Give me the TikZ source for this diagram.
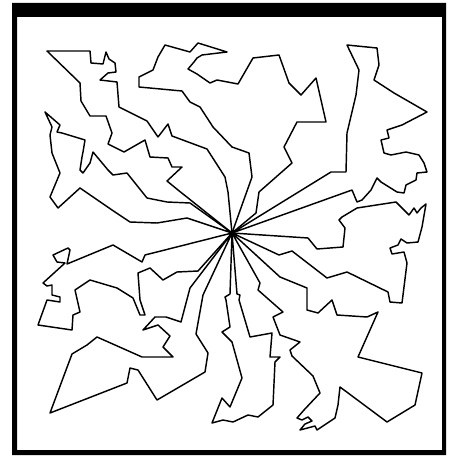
\documentclass[tikz,border=0pt]{standalone}
\begin{document}
\begin{tikzpicture}[x=1pt,y=-1pt,
  route/.style={draw=black, line width=1.45pt, line join=round, line cap=round}]
\useasboundingbox (0,0) rectangle (448,457);
\fill[white] (0,0) rectangle (448,457);
% frame
\fill[black, even odd rule] (12,3) rectangle (446,455) (17,17) rectangle (442,450);
% depot
\coordinate (D) at (232,233);
% route A (top left)
\draw[route] (D) -- (178,190) -- (167,181) -- (182,167) -- (172,167) -- (168,158) -- (150,157) -- (145,140) -- (124,152) -- (108,144) -- (112,133) -- (106,116) -- (90,116) -- (81,101) -- (80,83) -- (47,51) -- (90,51) -- (91,63) -- (103,64) -- (106,52) -- (109,59) -- (115,63) -- (116,72) -- (108,73) -- (100,80) -- (117,82) -- (119,107) -- (147,121) -- (158,137) -- (168,124) -- (172,136) -- (207,149) -- (225,177) -- (228,192) -- cycle;
% route B (top)
\draw[route] (D) -- (252,177) -- (249,153) -- (232,147) -- (213,127) -- (200,107) -- (190,102) -- (182,91) -- (139,87) -- (139,77) -- (153,70) -- (158,57) -- (165,45) -- (190,52) -- (198,43) -- (227,52) -- (202,55) -- (197,58) -- (194,62) -- (188,69) -- (197,74) -- (210,83) -- (217,80) -- (238,84) -- (253,58) -- (279,55) -- (289,83) -- (301,95) -- (316,78) -- (326,122) -- (297,122) -- (284,147) -- (292,163) -- (259,192) -- (256,213) -- cycle;
% route C (top right)
\draw[route] (D) -- (331,172) -- (346,172) -- (347,133) -- (356,95) -- (359,70) -- (347,45) -- (377,48) -- (379,65) -- (374,80) -- (394,93) -- (427,112) -- (402,125) -- (387,130) -- (389,138) -- (381,140) -- (384,153) -- (391,155) -- (406,152) -- (419,155) -- (424,163) -- (427,172) -- (417,173) -- (416,180) -- (406,185) -- (404,193) -- (397,192) -- (381,182) -- (377,178) -- (371,190) -- (362,200) -- (357,202) -- (352,190) -- cycle;
% route D (right)
\draw[route] (D) -- (308,238) -- (317,249) -- (343,247) -- (345,228) -- (339,220) -- (342,217) -- (357,208) -- (396,202) -- (404,210) -- (409,215) -- (414,208) -- (417,213) -- (421,208) -- (426,204) -- (422,227) -- (418,242) -- (407,243) -- (401,239) -- (398,245) -- (390,248) -- (392,254) -- (404,252) -- (407,263) -- (402,303) -- (390,302) -- (388,292) -- (347,272) -- (327,278) -- (292,251) -- (279,255) -- cycle;
% route E (lower right)
\draw[route] (D) -- (260,283) -- (258,290) -- (283,312) -- (273,317) -- (280,335) -- (300,342) -- (290,350) -- (292,356) -- (313,376) -- (320,393) -- (304,410) -- (297,418) -- (302,420) -- (308,417) -- (312,421) -- (305,424) -- (300,430) -- (315,426) -- (317,430) -- (335,418) -- (338,405) -- (340,387) -- (387,422) -- (415,405) -- (422,373) -- (358,357) -- (378,312) -- (367,317) -- (337,315) -- (332,300) -- (318,313) -- (307,310) -- (307,288) -- (280,277) -- cycle;
% route F (bottom centre)
\draw[route] (D) -- (230,294) -- (225,297) -- (226,300) -- (230,327) -- (222,332) -- (232,342) -- (242,378) -- (230,407) -- (222,398) -- (212,423) -- (223,420) -- (233,422) -- (248,415) -- (258,417) -- (273,405) -- (275,362) -- (280,357) -- (270,357) -- (272,333) -- (250,337) -- (239,300) -- (240,295) -- (237,294) -- cycle;
% route G (left)
\draw[route] (D) -- (190,203) -- (167,202) -- (147,198) -- (127,173) -- (113,175) -- (108,170) -- (93,152) -- (90,163) -- (83,173) -- (80,170) -- (82,157) -- (83,152) -- (85,140) -- (62,133) -- (57,132) -- (60,125) -- (45,112) -- (52,127) -- (50,135) -- (52,153) -- (60,173) -- (50,197) -- (58,208) -- (80,188) -- (112,210) -- (130,222) -- (157,223) -- (187,218) -- cycle;
% route H (left lower)
\draw[route] (D) -- (145,255) -- (142,262) -- (113,245) -- (67,264) -- (70,250) -- (68,248) -- (53,255) -- (57,262) -- (65,263) -- (43,283) -- (47,286) -- (52,285) -- (52,295) -- (60,297) -- (60,302) -- (47,300) -- (38,325) -- (72,330) -- (73,315) -- (80,312) -- (75,290) -- (90,280) -- (117,288) -- (133,298) -- (140,315) -- (145,315) -- (140,300) -- (138,273) -- (150,268) -- (163,280) -- (177,272) -- (198,271) -- cycle;
% route I (bottom left)
\draw[route] (D) -- (190,288) -- (181,322) -- (166,317) -- (155,317) -- (143,330) -- (158,325) -- (170,336) -- (163,347) -- (173,357) -- (142,357) -- (97,337) -- (87,345) -- (72,354) -- (50,413) -- (127,383) -- (130,368) -- (138,370) -- (157,400) -- (205,372) -- (208,353) -- (196,334) -- (203,295) -- cycle;
\end{tikzpicture}
\end{document}
